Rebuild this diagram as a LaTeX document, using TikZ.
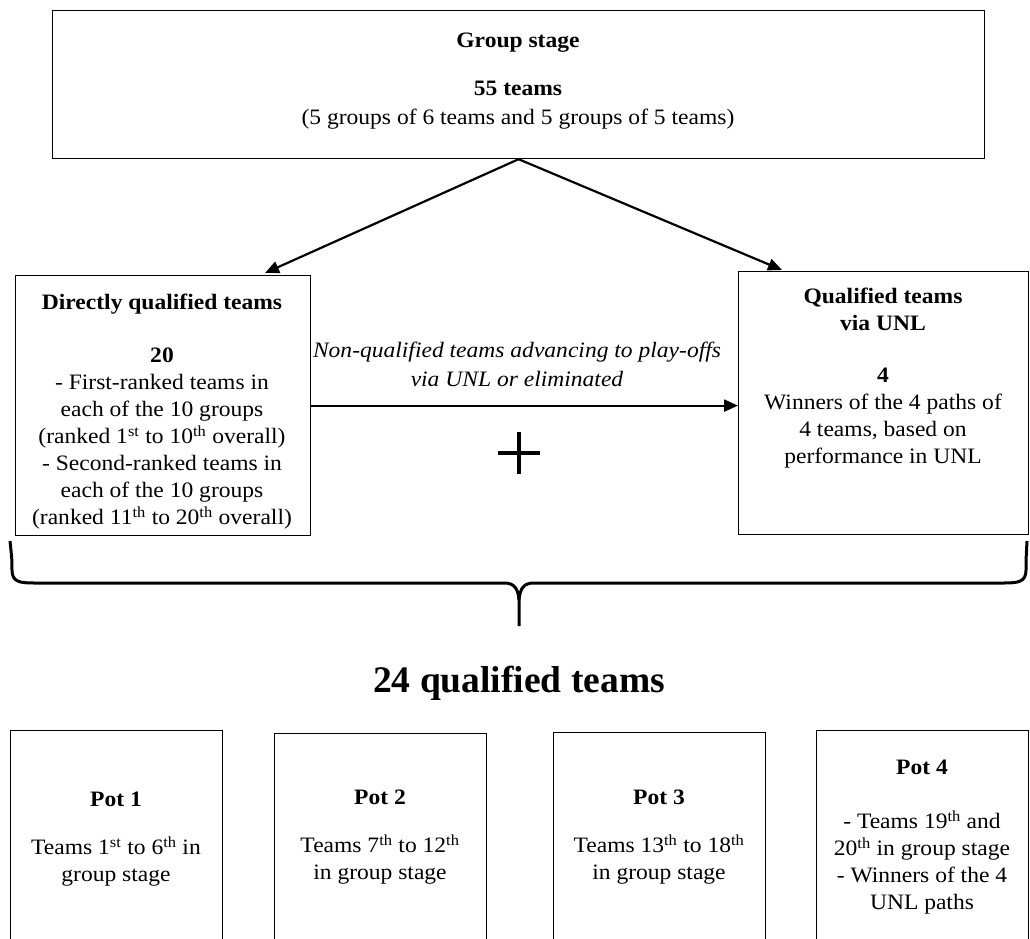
\documentclass[tikz,border=0pt]{standalone}
\usepackage{fontspec}
\setmainfont{Liberation Serif}[FakeStretch=1.07]
\newfontfamily\titlefont{Liberation Serif}
\usetikzlibrary{arrows.meta,calc}
\begin{document}
\begin{tikzpicture}[x=1pt,y=-1pt,
  box/.style={draw, line width=1.2pt, inner sep=0pt, anchor=north west},
  txt/.style={align=center, inner sep=0pt, anchor=north, font=\fontsize{22}{27}\selectfont},
  arr/.style={line width=2.2pt, -{Triangle[length=14pt,width=12pt]}},
  brace/.style={line width=3pt, line join=round}]
\useasboundingbox (0,0) rectangle (1030,939);
\clip (0,0) rectangle (1030,939);
% boxes
\node[box, minimum width=932pt, minimum height=148pt] (gs) at (52,10) {};
\node[box, minimum width=295pt, minimum height=260pt] (dq) at (15,275) {};
\node[box, minimum width=290pt, minimum height=263pt] (uq) at (738,271) {};
\node[box, minimum width=212pt, minimum height=260pt] (p1) at (10,730) {};
\node[box, minimum width=212pt, minimum height=260pt] (p2) at (274,733) {};
\node[box, minimum width=212pt, minimum height=260pt] (p3) at (553,732) {};
\node[box, minimum width=212pt, minimum height=260pt] (p4) at (816,730) {};
% texts
\node[txt] (gst) at (518,33) {\textbf{Group stage}\\[21pt]\textbf{55 teams}\\[2pt](5 groups of 6 teams and 5 groups of 5 teams)};
\node[txt] (dqt) at (162,294) {\textbf{Directly qualified teams}\\[26pt]\textbf{20}\\- First-ranked teams in\\each of the 10 groups\\(ranked 1\textsuperscript{st} to 10\textsuperscript{th} overall)\\- Second-ranked teams in\\each of the 10 groups\\(ranked 11\textsuperscript{th} to 20\textsuperscript{th} overall)};
\node[txt] (uqt) at (883,288) {\textbf{Qualified teams}\\\textbf{via UNL}\\[25pt]\textbf{4}\\Winners of the 4 paths of\\4 teams, based on\\performance in UNL};
\node[txt, font=\fontsize{22}{29}\selectfont\itshape] (lbl) at (517,342) {Non-qualified teams advancing to play-offs\\via UNL or eliminated};
\node[txt, font=\titlefont\fontsize{37.5}{40}\selectfont\bfseries] (tot) at (519,666) {24 qualified teams};
\node[txt] (p1t) at (116,792) {\textbf{Pot 1}\\[21pt]Teams 1\textsuperscript{st} to 6\textsuperscript{th} in\\group stage};
\node[txt] (p2t) at (380,790) {\textbf{Pot 2}\\[21pt]Teams 7\textsuperscript{th} to 12\textsuperscript{th}\\in group stage};
\node[txt] (p3t) at (659,790) {\textbf{Pot 3}\\[21pt]Teams 13\textsuperscript{th} to 18\textsuperscript{th}\\in group stage};
\node[txt] (p4t) at (922,760) {\textbf{Pot 4}\\[27pt]- Teams 19\textsuperscript{th} and\\20\textsuperscript{th} in group stage\\- Winners of the 4\\UNL paths};
% connectors
\draw[arr] (gs.south) -- ($(dq.north west)+(250,-2)$);
\draw[arr] (gs.south) -- ($(uq.north west)+(44,-1)$);
\draw[arr] (dq.east) -- (dq.east -| uq.west);
% plus
\draw[line width=4pt] (498,453) -- (540,453) (519,432) -- (519,474);
% brace
\draw[brace] (10,541) .. controls (12,560) .. (12,570) .. controls (12,582) and (20,583) .. (34,583) -- (504,583)
  .. controls (514,583) and (518,588) .. (519,600) -- (519,626);
\draw[brace] (1027,541) .. controls (1026,560) .. (1026,570) .. controls (1026,582) and (1018,583) .. (1004,583) -- (534,583)
  .. controls (524,583) and (520,588) .. (519,600);
\end{tikzpicture}
\end{document}
